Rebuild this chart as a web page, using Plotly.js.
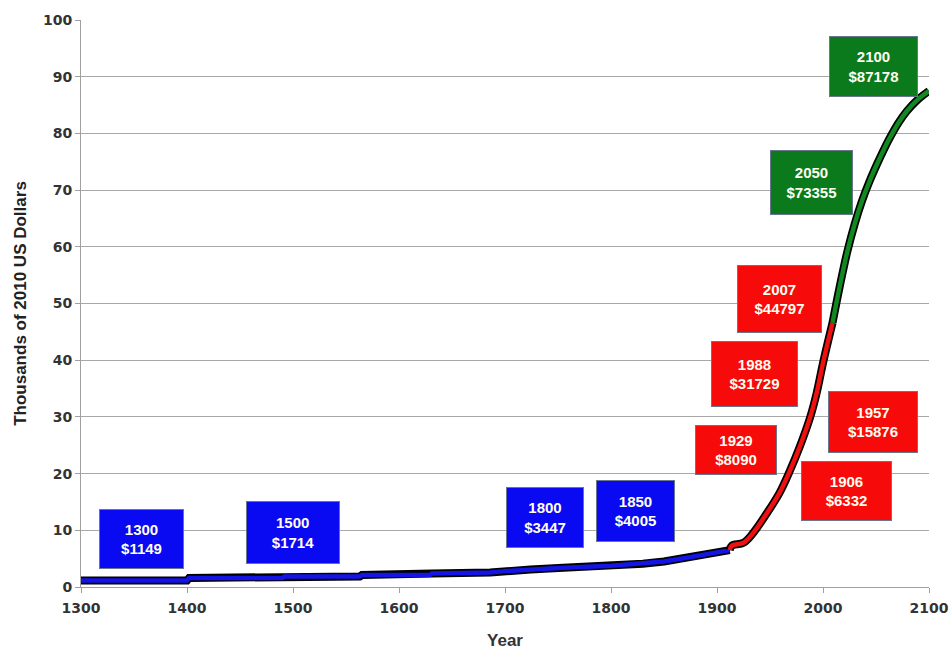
<!DOCTYPE html>
<html>
<head>
<meta charset="utf-8">
<script src="https://cdn.plot.ly/plotly-3.0.1.min.js"></script>
<style>html,body{margin:0;padding:0;background:#fff}#chart{width:951px;height:650px}</style>
</head>
<body>
<div id="chart"></div>
<script>
// ---- data (thousands of 2010 US dollars) ----
var blueYears  = [1300, 1400, 1402, 1490, 1492, 1563, 1565, 1629, 1631, 1686, 1700, 1724, 1755, 1800, 1830, 1850, 1870, 1890, 1912];
var blueValues = [1.15, 1.15, 1.6, 1.6, 1.85, 1.85, 2.1, 2.1, 2.4, 2.55, 2.8, 3.1, 3.4, 3.75, 4.1, 4.5, 5.1, 5.8, 6.5];
var redYears   = [1912, 1914, 1925, 1934, 1947, 1959, 1969, 1978, 1988, 1994, 2000, 2009];
var redValues  = [6.5, 7.3, 7.8, 9.5, 13.0, 16.6, 20.6, 24.7, 30.0, 34.2, 39.5, 46.6];
var greenYears  = [2009, 2016, 2023, 2030, 2037, 2044, 2051, 2057, 2063, 2071, 2079, 2089, 2100];
var greenValues = [46.6, 53.2, 59.2, 64.1, 68.2, 71.6, 74.6, 77.0, 79.2, 81.8, 83.9, 85.9, 87.5];

var labelYears  = ['1300', '1500', '1800', '1850', '1906', '1929', '1957', '1988', '2007', '2050', '2100'];
var labelValues = ['$1149', '$1714', '$3447', '$4005', '$6332', '$8090', '$15876', '$31729', '$44797', '$73355', '$87178'];
var labelGroup  = ['blue', 'blue', 'blue', 'blue', 'red', 'red', 'red', 'red', 'red', 'green', 'green'];

var xTicks = [1300, 1400, 1500, 1600, 1700, 1800, 1900, 2000, 2100];
var yTicks = [0, 10, 20, 30, 40, 50, 60, 70, 80, 90, 100];

// ---- styles / positions ----
var colors = {blue: '#0a0af2', red: '#f70a0a', green: '#0a7a1c'};
var lineColors = {blue: '#1414e6', red: '#f01010', green: '#108a20'};
// annotation box centres (data coords) and sizes (px)
var boxX = [1356.6, 1500, 1737.7, 1823, 2022, 1918, 2047, 1935, 1959, 1989, 2047.6];
var boxY = [8.47, 9.7, 12.3, 13.4, 16.9, 24.2, 29.1, 37.6, 50.8, 71.3, 91.8];
var boxW = [81, 90, 74, 75, 87, 78, 86, 83, 81, 79, 85];
var boxH = [56, 59, 57, 58, 56, 46, 58, 62, 64, 61, 57];

function seg(x, y, key, smooth) {
  var shape = smooth ? 'spline' : 'linear';
  return [
    {x: x, y: y, type: 'scatter', mode: 'lines', hoverinfo: 'skip',
     line: {color: '#000000', width: 8, shape: shape, smoothing: 1}, showlegend: false},
    {x: x, y: y, type: 'scatter', mode: 'lines',
     line: {color: lineColors[key], width: 4.5, shape: shape, smoothing: 1}, showlegend: false}
  ];
}
var traces = [].concat(
  seg(blueYears, blueValues, 'blue', false),
  seg(redYears, redValues, 'red', true),
  seg(greenYears, greenValues, 'green', true)
);

var annotations = labelYears.map(function (yr, i) {
  return {
    x: boxX[i], y: boxY[i], xref: 'x', yref: 'y',
    text: '<b>' + yr + '<br>' + labelValues[i] + '</b>',
    showarrow: false,
    bgcolor: colors[labelGroup[i]],
    bordercolor: '#6a7590', borderwidth: 1,
    width: boxW[i], height: boxH[i],
    align: 'center', valign: 'middle',
    font: {family: 'Liberation Sans, Arial, sans-serif', size: 15, color: '#fffdf0'}
  };
});

var layout = {
  width: 951, height: 650,
  margin: {l: 81, r: 22, t: 20, b: 63},
  paper_bgcolor: '#ffffff', plot_bgcolor: '#ffffff',
  showlegend: false,
  xaxis: {
    range: [1300, 2100], tickvals: xTicks, ticktext: xTicks.map(String),
    showgrid: false, zeroline: false,
    showline: true, linecolor: '#a0a0a0', linewidth: 1,
    ticks: 'outside', ticklen: 5, tickcolor: '#a0a0a0', ticklabelstandoff: 3,
    tickfont: {family: 'DejaVu Sans, sans-serif', size: 14, color: '#333333', weight: 'bold'},
    title: {text: '<b>Year</b>', standoff: 22,
            font: {family: 'Liberation Sans, Arial, sans-serif', size: 17, color: '#333333'}}
  },
  yaxis: {
    range: [0, 100], tickvals: yTicks, ticktext: yTicks.map(String),
    showgrid: true, gridcolor: '#a8a8a8', gridwidth: 1, zeroline: false,
    showline: true, linecolor: '#a0a0a0', linewidth: 1,
    ticks: 'outside', ticklen: 5, tickcolor: '#a0a0a0',
    tickfont: {family: 'DejaVu Sans, sans-serif', size: 14, color: '#333333', weight: 'bold'},
    title: {text: '<b>Thousands of 2010 US Dollars</b>', standoff: 12,
            font: {family: 'Liberation Sans, Arial, sans-serif', size: 17, color: '#222222'}}
  },
  annotations: annotations
};

Plotly.newPlot('chart', traces, layout, {displayModeBar: false, staticPlot: true});
</script>
</body>
</html>
